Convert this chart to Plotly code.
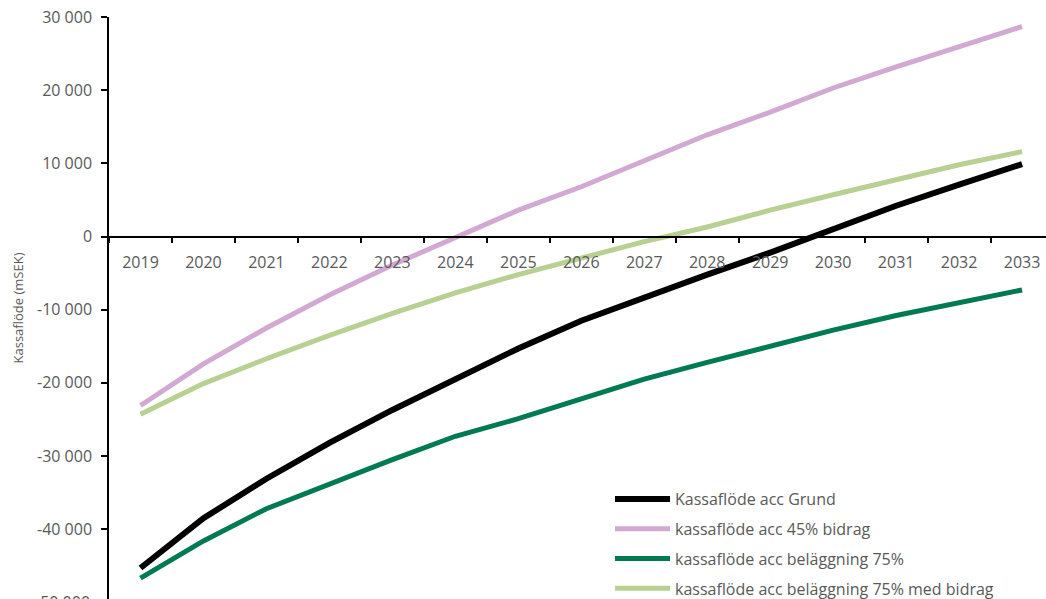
import plotly.graph_objects as go

years = [str(y) for y in range(2019, 2034)]

grund = [-45300, -38500, -33100, -28200, -23700, -19500, -15300, -11500, -8300, -5200, -2200, 1100, 4200, 7100, 9900]
bidrag45 = [-23100, -17400, -12500, -8000, -3900, -100, 3600, 6800, 10400, 13900, 17000, 20300, 23200, 26000, 28700]
belagg75 = [-46700, -41600, -37200, -33800, -30500, -27300, -24900, -22200, -19500, -17200, -15000, -12800, -10800, -9000, -7300]
belagg75_bidrag = [-24300, -20100, -16700, -13500, -10500, -7700, -5200, -3000, -700, 1300, 3600, 5700, 7800, 9800, 11600]

series_names = [
    "Kassaflöde acc Grund",
    "kassaflöde acc 45% bidrag",
    "kassaflöde acc beläggning 75%",
    "kassaflöde acc beläggning 75% med bidrag",
]
series_values = [grund, bidrag45, belagg75, belagg75_bidrag]
colors = ["#000000", "#D2A9D2", "#007A52", "#B8D092"]
widths = [6, 5, 5, 5]

ytick_vals = [30000, 20000, 10000, 0, -10000, -20000, -30000, -40000]
ytick_text = ["30 000", "20 000", "10 000", "0", "-10 000", "-20 000", "-30 000", "-40 000"]

font_family = "Open Sans"
gray = "#595959"

y_min, y_max = -49540, 30000
x_pos = (0 - y_min) / (y_max - y_min)

fig = go.Figure()
for i, (name, vals) in enumerate(zip(series_names, series_values)):
    fig.add_trace(go.Scatter(
        x=years, y=vals, name=name, mode="lines",
        line=dict(color=colors[i], width=widths[i]),
        legendgroup=f"g{i}",
    ))

fig.update_layout(
    width=1046, height=599,
    margin=dict(l=109, r=0, t=17, b=0, autoexpand=False),
    paper_bgcolor="white", plot_bgcolor="white",
    font=dict(family=font_family, color=gray, size=16),
    showlegend=True,
    legend=dict(
        x=(610 - 109) / 937, y=(599 - 482) / 582,
        xref="paper", yref="paper",
        xanchor="left", yanchor="top",
        bgcolor="rgba(0,0,0,0)",
        font=dict(family=font_family, size=16, color=gray),
        traceorder="grouped", tracegroupgap=6,
        itemwidth=55,
    ),
    xaxis=dict(
        type="category",
        range=[-0.5, 14.38],
        anchor="free", position=x_pos,
        showline=True, linecolor="#000000", linewidth=1.5,
        ticks="outside", ticklen=6, tickcolor="#000000", tickwidth=1.5,
        tickson="boundaries",
        ticklabelstandoff=12,
        showgrid=False, zeroline=False,
        tickfont=dict(family=font_family, size=16, color=gray),
    ),
    yaxis=dict(
        range=[y_min, y_max],
        tickvals=ytick_vals, ticktext=ytick_text,
        showline=True, linecolor="#000000", linewidth=1.5,
        ticks="outside", ticklen=6, tickcolor="#000000", tickwidth=1.5,
        ticklabelstandoff=6,
        showgrid=False, zeroline=False,
        tickfont=dict(family=font_family, size=16, color=gray),
        title=dict(text="Kassaflöde (mSEK)", font=dict(family=font_family, size=13, color=gray), standoff=10),
    ),
)

fig.add_annotation(
    text="-50 000", xref="paper", yref="paper",
    x=(92 - 109) / 937, y=(-50000 - y_min) / (y_max - y_min),
    xanchor="right", yanchor="middle", showarrow=False,
    font=dict(family=font_family, size=16, color=gray),
)

fig.write_html("out.html")
